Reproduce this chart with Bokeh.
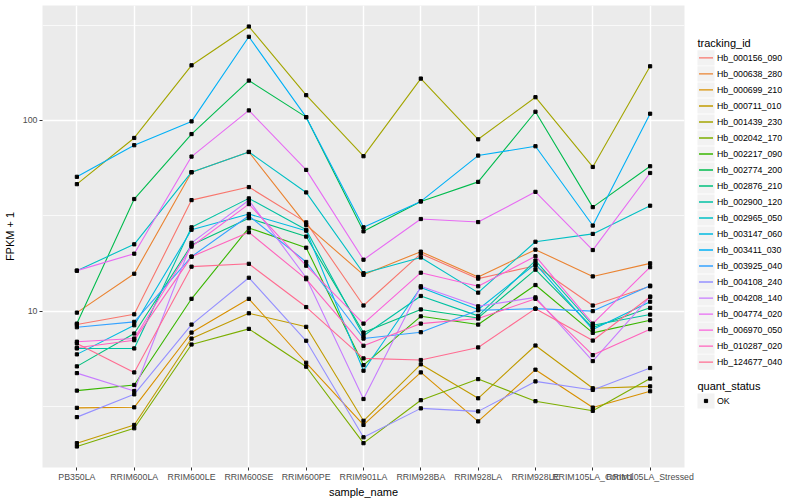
import math
from bokeh.plotting import figure
from bokeh.models import Range1d, FixedTicker, NumeralTickFormatter
from bokeh.layouts import row
from bokeh.embed import file_html
from bokeh.resources import INLINE
from bokeh.core.properties import value

FONT = "Liberation Sans"

samples = ["PB350LA", "RRIM600LA", "RRIM600LE", "RRIM600SE", "RRIM600PE", "RRIM901LA",
           "RRIM928BA", "RRIM928LA", "RRIM928LE", "RRIM105LA_Control", "RRIM105LA_Stressed"]

tracking_ids = ["Hb_000156_090", "Hb_000638_280", "Hb_000699_210", "Hb_000711_010",
                "Hb_001439_230", "Hb_002042_170", "Hb_002217_090", "Hb_002774_200",
                "Hb_002876_210", "Hb_002900_120", "Hb_002965_050", "Hb_003147_060",
                "Hb_003411_030", "Hb_003925_040", "Hb_004108_240", "Hb_004208_140",
                "Hb_004774_020", "Hb_006970_050", "Hb_010287_020", "Hb_124677_040"]

colors = ["#F8766D", "#EA8331", "#D89000", "#C09B00", "#A3A500", "#7CAE00", "#39B600",
          "#00BB4E", "#00BF7D", "#00C1A3", "#00BFC4", "#00BAE0", "#00B0F6", "#35A2FF",
          "#9590FF", "#C77CFF", "#E76BF3", "#FA62DB", "#FF62BC", "#FF6C91"]

# FPKM + 1 per sample (same order as samples)
Hb_000156_090 = [8.50, 9.62, 38.2, 44.7, 29.2, 10.7, 20.0, 14.8, 17.3, 10.7, 13.5]
Hb_000638_280 = [9.82, 15.7, 53.5, 68.3, 28.3, 15.5, 20.5, 15.1, 21.0, 15.2, 17.8]
Hb_000699_210 = [3.11, 3.13, 7.72, 11.6, 5.36, 2.53, 4.77, 2.64, 4.93, 3.12, 3.80]
Hb_000711_010 = [2.03, 2.53, 7.18, 9.74, 8.27, 2.66, 5.26, 3.49, 6.60, 3.94, 4.03]
Hb_001439_230 = [46.3, 80.9, 194.5, 310.7, 135.6, 64.9, 165.7, 79.6, 132.3, 57.0, 192.2]
Hb_002042_170 = [1.95, 2.43, 6.68, 8.07, 5.11, 2.03, 3.41, 4.40, 3.37, 3.00, 4.43]
Hb_002217_090 = [3.83, 4.10, 11.6, 27.3, 21.5, 5.21, 9.39, 8.50, 13.7, 7.69, 8.95]
Hb_002774_200 = [8.60, 38.7, 84.8, 161.8, 104.0, 26.2, 37.6, 47.6, 111.0, 35.1, 57.5]
Hb_002876_210 = [5.13, 7.63, 22.2, 30.7, 24.6, 7.72, 10.2, 9.21, 16.5, 8.20, 10.4]
Hb_002900_120 = [6.37, 6.37, 27.5, 39.0, 26.7, 7.42, 12.0, 9.44, 18.4, 8.43, 9.59]
Hb_002965_050 = [16.3, 22.4, 53.5, 68.3, 41.9, 15.8, 19.1, 12.5, 23.1, 25.4, 35.7]
Hb_003147_060 = [5.93, 8.43, 26.7, 32.3, 26.4, 4.87, 13.3, 10.2, 17.7, 8.00, 11.2]
Hb_003411_030 = [50.6, 74.1, 98.8, 274.5, 104.0, 27.5, 37.6, 65.4, 73.2, 28.1, 108.4]
Hb_003925_040 = [8.23, 8.78, 19.3, 31.6, 18.1, 7.18, 7.75, 10.1, 10.3, 10.0, 13.6]
Hb_004108_240 = [2.78, 3.66, 8.50, 14.96, 6.99, 2.18, 3.09, 2.98, 4.28, 3.86, 5.03]
Hb_004208_140 = [4.73, 3.81, 22.8, 38.1, 14.96, 3.46, 13.5, 10.6, 11.8, 5.47, 11.9]
Hb_004774_020 = [16.3, 20.0, 64.6, 112.8, 55.0, 18.6, 30.4, 29.3, 42.2, 20.9, 53.0]
Hb_006970_050 = [6.91, 7.18, 21.8, 36.4, 17.3, 8.60, 15.9, 13.5, 19.4, 8.60, 17.0]
Hb_010287_020 = [6.42, 7.04, 19.3, 25.9, 14.7, 6.58, 8.60, 9.14, 11.6, 5.88, 8.04]
Hb_124677_040 = [6.77, 4.77, 17.1, 17.7, 10.5, 5.65, 5.54, 6.45, 10.3, 7.01, 11.9]

series = [Hb_000156_090, Hb_000638_280, Hb_000699_210, Hb_000711_010, Hb_001439_230,
          Hb_002042_170, Hb_002217_090, Hb_002774_200, Hb_002876_210, Hb_002900_120,
          Hb_002965_050, Hb_003147_060, Hb_003411_030, Hb_003925_040, Hb_004108_240,
          Hb_004208_140, Hb_004774_020, Hb_006970_050, Hb_010287_020, Hb_124677_040]

quant_status = ["OK"]

y_ticks = [10, 100]
y_minor = [10 ** 0.5, 10 ** 1.5, 10 ** 2.5]

# ---- scales (ggplot-like expansion) ----
xs = [i + 1 for i in range(len(samples))]
allv = [v for s in series for v in s]
lo, hi = math.log10(min(allv)), math.log10(max(allv))
pad = (hi - lo) * 0.05

p = figure(width=696, height=500, y_axis_type="log",
           x_range=Range1d(0.4, len(samples) + 0.6),
           y_range=Range1d(10 ** (lo - pad), 10 ** (hi + pad)),
           toolbar_location=None, output_backend="svg",
           min_border_left=40, min_border_right=12, min_border_top=5, min_border_bottom=0)
p.background_fill_color = "#EBEBEB"
p.border_fill_color = "white"
p.outline_line_color = None

xt = FixedTicker(ticks=xs)
yt = FixedTicker(ticks=y_ticks, minor_ticks=y_minor)
p.xaxis.ticker = xt
p.xgrid.ticker = xt
p.yaxis.ticker = yt
p.ygrid.ticker = yt
p.xaxis.major_label_overrides = {x: s for x, s in zip(xs, samples)}
p.yaxis.formatter = NumeralTickFormatter(format="0")

for g in (p.xgrid, p.ygrid):
    g.grid_line_color = "white"
    g.grid_line_width = 1.4
p.xgrid.minor_grid_line_color = None
p.ygrid.minor_grid_line_color = "white"
p.ygrid.minor_grid_line_width = 0.7

p.axis.axis_line_color = None
p.axis.major_tick_in = 0
p.axis.major_tick_out = 3
p.axis.major_tick_line_color = "#333333"
p.axis.minor_tick_line_color = None
p.axis.major_label_text_font = FONT
p.axis.major_label_text_font_size = "8.8px"
p.axis.major_label_text_color = "#4D4D4D"
p.axis.major_label_standoff = 1
p.axis.axis_label_text_font = FONT
p.axis.axis_label_text_font_size = "11px"
p.axis.axis_label_text_font_style = "normal"
p.axis.axis_label_text_color = "black"
p.axis.axis_label_standoff = 1
p.yaxis.axis_label_standoff = 4
p.xaxis.axis_label = "sample_name"
p.yaxis.axis_label = "FPKM + 1"

for s, c in zip(series, colors):
    p.line(xs, s, line_color=c, line_width=1.1)

px = [x for s in series for x in xs]
py = [v for s in series for v in s]
p.scatter(px, py, marker="square", size=3.2, fill_color="black", line_color="black")

# ---- legend panel ----
leg = figure(width=104, height=500, x_range=Range1d(0, 104), y_range=Range1d(500, 0),
             toolbar_location=None, output_backend="svg",
             x_axis_location=None, y_axis_location=None, min_border=0)
leg.grid.visible = False
leg.outline_line_color = None
leg.background_fill_color = "white"
leg.border_fill_color = "white"

n = len(tracking_ids)
key_y = [56.7 + 17.33 * i for i in range(n)]
leg.text(x=[1], y=[40.5], text=["tracking_id"], text_font=value(FONT),
         text_font_size=value("11px"), text_baseline="middle", text_align="left", text_color="black")
leg.rect(x=[9.5] * n, y=key_y, width=17, height=16.3, fill_color="#F2F2F2", line_color=None)
leg.segment(x0=[2.5] * n, x1=[16.5] * n, y0=key_y, y1=key_y, line_color=colors, line_width=1.4)
leg.text(x=[20.5] * n, y=key_y, text=tracking_ids, text_font=value(FONT),
         text_font_size=value("8.8px"), text_baseline="middle", text_align="left", text_color="black")

qy = 428
leg.text(x=[1], y=[qy - 16], text=["quant_status"], text_font=value(FONT),
         text_font_size=value("11px"), text_baseline="middle", text_align="left", text_color="black")
leg.rect(x=[9.5], y=[qy], width=17, height=16.3, fill_color="#F2F2F2", line_color=None)
leg.scatter(x=[9.5], y=[qy], marker="square", size=3.2, fill_color="black", line_color="black")
leg.text(x=[20.5], y=[qy], text=quant_status, text_font=value(FONT),
         text_font_size=value("8.8px"), text_baseline="middle", text_align="left", text_color="black")

layout = row(p, leg)
open("out.html", "w").write(file_html(layout, INLINE))
